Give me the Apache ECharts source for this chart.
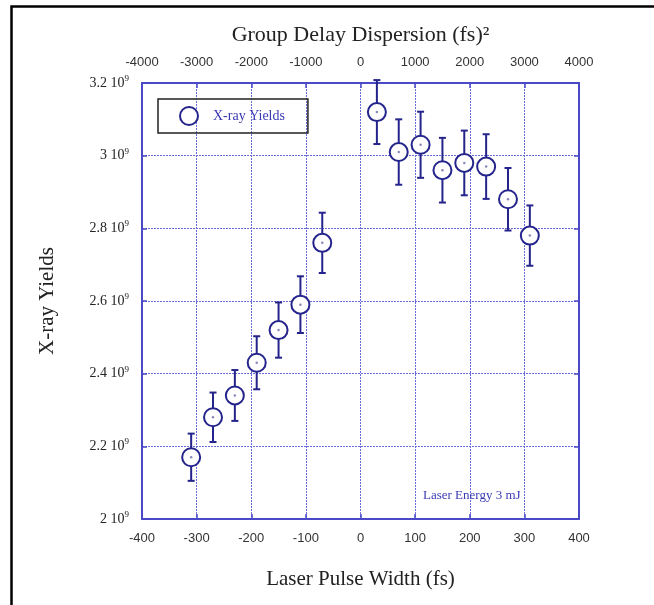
<!DOCTYPE html>
<html>
<head>
<meta charset="utf-8">
<title>X-ray Yields vs Laser Pulse Width</title>
<script src="https://cdn.jsdelivr.net/npm/echarts@6/dist/echarts.min.js"></script>
<style>
  html, body { margin: 0; padding: 0; background: #ffffff; }
  #chart { width: 654px; height: 605px; }
</style>
</head>
<body>
<div id="chart"></div>
<script>
// Measured X-ray yields at each laser pulse width (chirp sign follows GDD sign)
const pulseWidth = [-310, -270, -230, -190, -150, -110, -70, 30, 70, 110, 150, 190, 230, 270, 310];
const xrayYield = [2.17e9, 2.28e9, 2.34e9, 2.43e9, 2.52e9, 2.59e9, 2.76e9, 3.12e9, 3.01e9, 3.03e9, 2.96e9, 2.98e9, 2.97e9, 2.88e9, 2.78e9];
const yieldError = [0.065e9, 0.068e9, 0.070e9, 0.073e9, 0.076e9, 0.078e9, 0.083e9, 0.088e9, 0.090e9, 0.091e9, 0.089e9, 0.089e9, 0.089e9, 0.086e9, 0.083e9];

// Left-axis tick mantissas (value = mantissa x 10^9)
const yTickMantissa = ['2', '2.2', '2.4', '2.6', '2.8', '3', '3.2'];

const AXIS_BLUE = '#4a4ac8';
const GRID_BLUE = '#6a6ad8';
const MARK_NAVY = '#24248c';
const SERIF = '"Liberation Serif", "Times New Roman", serif';
const SANS = '"Liberation Sans", Arial, sans-serif';

const points = pulseWidth.map((x, i) => [x, xrayYield[i]]);
const errBars = pulseWidth.map((x, i) => [x, xrayYield[i] - yieldError[i], xrayYield[i] + yieldError[i]]);

const chart = echarts.init(document.getElementById('chart'), null, { renderer: 'canvas' });

const axisLineStyle = { show: true, onZero: false, lineStyle: { color: AXIS_BLUE, width: 2 } };
const tickInside = { show: true, inside: true, length: 5, lineStyle: { color: AXIS_BLUE, width: 1.5 } };
const plainNumber = v => String(v);

chart.setOption({
  animation: false,
  backgroundColor: '#ffffff',
  grid: { left: 142, top: 83, width: 437, height: 436, containLabel: false },
  legend: {
    left: 158,
    top: 99,
    orient: 'horizontal',
    padding: [7, 23, 7, 21],
    borderColor: '#222222',
    borderWidth: 1.5,
    borderRadius: 0,
    itemWidth: 18,
    itemHeight: 18,
    data: [{ name: 'X-ray Yields', icon: 'circle' }],
    textStyle: { fontFamily: SERIF, fontSize: 14, color: '#3a3ab4', padding: [0, 0, 0, 10] }
  },
  xAxis: [
    {
      type: 'value',
      position: 'bottom',
      min: -400, max: 400, interval: 100,
      name: 'Laser Pulse Width (fs)',
      nameLocation: 'middle',
      nameGap: 50,
      nameTextStyle: { fontFamily: SERIF, fontSize: 21, color: '#222222' },
      axisLine: axisLineStyle,
      axisTick: tickInside,
      axisLabel: { fontFamily: SANS, fontSize: 13, color: '#333333', margin: 13, formatter: plainNumber },
      splitLine: { show: true, lineStyle: { color: GRID_BLUE, width: 1, type: [2, 1] } }
    },
    {
      type: 'value',
      position: 'top',
      min: -4000, max: 4000, interval: 1000,
      name: 'Group Delay Dispersion (fs)²',
      nameLocation: 'middle',
      nameGap: 37,
      nameTextStyle: { fontFamily: SERIF, fontSize: 22, color: '#222222' },
      axisLine: axisLineStyle,
      axisTick: tickInside,
      axisLabel: { fontFamily: SANS, fontSize: 13, color: '#333333', margin: 14, formatter: plainNumber },
      splitLine: { show: false }
    }
  ],
  yAxis: [
    {
      type: 'value',
      position: 'left',
      min: 2e9, max: 3.2e9, interval: 2e8,
      name: 'X-ray Yields',
      nameLocation: 'middle',
      nameGap: 84,
      nameRotate: 90,
      nameTextStyle: { fontFamily: SERIF, fontSize: 21, color: '#222222' },
      axisLine: axisLineStyle,
      axisTick: tickInside,
      axisLabel: {
        margin: 13,
        formatter: (v, idx) => '{m|' + yTickMantissa[idx] + ' 10}{s|9}',
        rich: {
          m: { fontFamily: SERIF, fontSize: 14, color: '#222222', lineHeight: 18 },
          s: { fontFamily: SERIF, fontSize: 9, color: '#222222', verticalAlign: 'top', lineHeight: 18, padding: [0, 0, 6, 0] }
        }
      },
      splitLine: { show: true, lineStyle: { color: GRID_BLUE, width: 1, type: [2, 1] } }
    },
    {
      type: 'value',
      position: 'right',
      min: 2e9, max: 3.2e9, interval: 2e8,
      axisLine: axisLineStyle,
      axisTick: tickInside,
      axisLabel: { show: false },
      splitLine: { show: false }
    }
  ],
  series: [
    {
      // Vertical error bars with short caps
      type: 'custom',
      name: 'errorbars',
      xAxisIndex: 0,
      yAxisIndex: 0,
      data: errBars,
      z: 3,
      silent: true,
      renderItem: function (params, api) {
        const x = api.value(0);
        const lo = api.coord([x, api.value(1)]);
        const hi = api.coord([x, api.value(2)]);
        const cap = 3.5;
        const style = { stroke: MARK_NAVY, lineWidth: 2 };
        return {
          type: 'group',
          children: [
            { type: 'line', shape: { x1: lo[0], y1: lo[1], x2: hi[0], y2: hi[1] }, style: style },
            { type: 'line', shape: { x1: hi[0] - cap, y1: hi[1], x2: hi[0] + cap, y2: hi[1] }, style: style },
            { type: 'line', shape: { x1: lo[0] - cap, y1: lo[1], x2: lo[0] + cap, y2: lo[1] }, style: style }
          ]
        };
      }
    },
    {
      type: 'scatter',
      name: 'X-ray Yields',
      xAxisIndex: 0,
      yAxisIndex: 0,
      data: points,
      symbol: 'circle',
      symbolSize: 18,
      z: 5,
      itemStyle: { color: '#ffffff', borderColor: MARK_NAVY, borderWidth: 2, opacity: 1 }
    },
    {
      // centre dot inside each hollow marker
      type: 'scatter',
      name: 'centre',
      xAxisIndex: 0,
      yAxisIndex: 0,
      data: points,
      symbol: 'circle',
      symbolSize: 2.5,
      z: 6,
      silent: true,
      itemStyle: { color: '#6a6aa8' }
    }
  ],
  graphic: [
    {
      type: 'rect',
      left: 9,
      top: 4,
      shape: { width: 700, height: 700 },
      style: { fill: 'none', stroke: '#000000', lineWidth: 2.5 },
      silent: true,
      z: 100
    },
    {
      type: 'text',
      left: 423,
      top: 489,
      style: { text: 'Laser Energy 3 mJ', fontFamily: SERIF, fontSize: 13, fill: '#3a3ab4' },
      z: 10
    }
  ]
});
</script>
</body>
</html>
